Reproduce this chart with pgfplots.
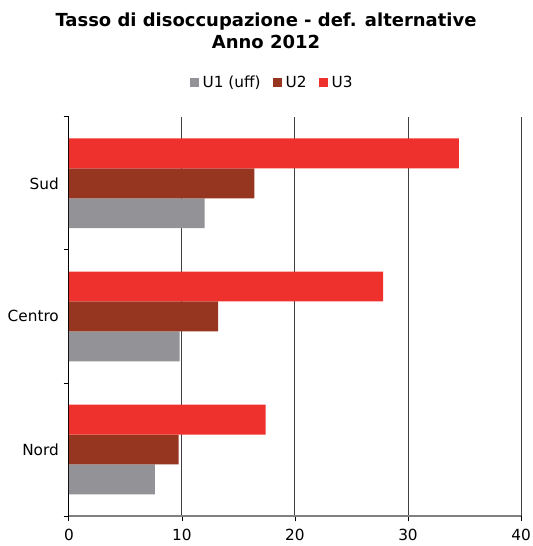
\documentclass[border=0pt]{standalone}
\usepackage{pgfplots}
\pgfplotsset{compat=1.18}
\usepackage{fontspec}
\setmainfont{DejaVu Sans}

\definecolor{uuno}{RGB}{147,147,151}
\definecolor{udue}{RGB}{150,53,32}
\definecolor{utre}{RGB}{238,49,44}

\begin{document}
\begin{tikzpicture}
\begin{axis}[
    at={(0,0)}, anchor=south west,
    scale only axis,
    width=339.75pt, height=300pt,
    xbar, bar width=0.225,
    xmin=0, xmax=40,
    ymin=-0.5, ymax=2.5,
    xtick={0,10,20,30,40},
    ytick={0,1,2},
    yticklabels={Nord,Centro,Sud},
    minor ytick={-0.5,0.5,1.5,2.5},
    major y tick style={draw=none},
    minor y tick style={black, line width=0.6pt},
    minor tick length=4pt,
    major tick length=4pt,
    tick align=outside,
    x tick style={black, line width=0.6pt},
    axis lines*=left,
    x axis line style={gray, line width=1.2pt},
    y axis line style={black, line width=0.6pt},
    xmajorgrids=true,
    major grid style={black!75, line width=0.7pt},
    /pgf/number format/assume math mode=true,
    tick label style={font=\fontsize{11.5}{13}\selectfont},
    xticklabel style={yshift=-2pt},
    legend style={at={(axis description cs:0.45,1.085)}, anchor=center,
        draw=none, legend columns=-1,
        font=\fontsize{11.5}{13}\selectfont,
        /tikz/every odd column/.append style={column sep=1pt},
        /tikz/every even column/.append style={column sep=7pt}},
    legend image code/.code={\fill[#1] (0pt,-3.4pt) rectangle (6.8pt,3.4pt);},
]
\addplot[fill=uuno, draw=none, bar shift=-0.225] coordinates {(7.6,0) (9.8,1) (12.0,2)};
\addplot[fill=udue, draw=none, bar shift=0] coordinates {(9.7,0) (13.2,1) (16.4,2)};
\addplot[fill=utre, draw=none, bar shift=0.225] coordinates {(17.4,0) (27.8,1) (34.5,2)};
\legend{U1 (uff), U2, U3}
\end{axis}
\node[align=center, font=\bfseries\fontsize{13.5}{16.5}\selectfont] at (148.1pt,364.5pt)
    {Tasso di disoccupazione - def. alternative\\Anno 2012};
\pgfresetboundingbox
\useasboundingbox (-51.75pt,-22.5pt) rectangle (348pt,387.75pt);
\end{tikzpicture}
\end{document}
